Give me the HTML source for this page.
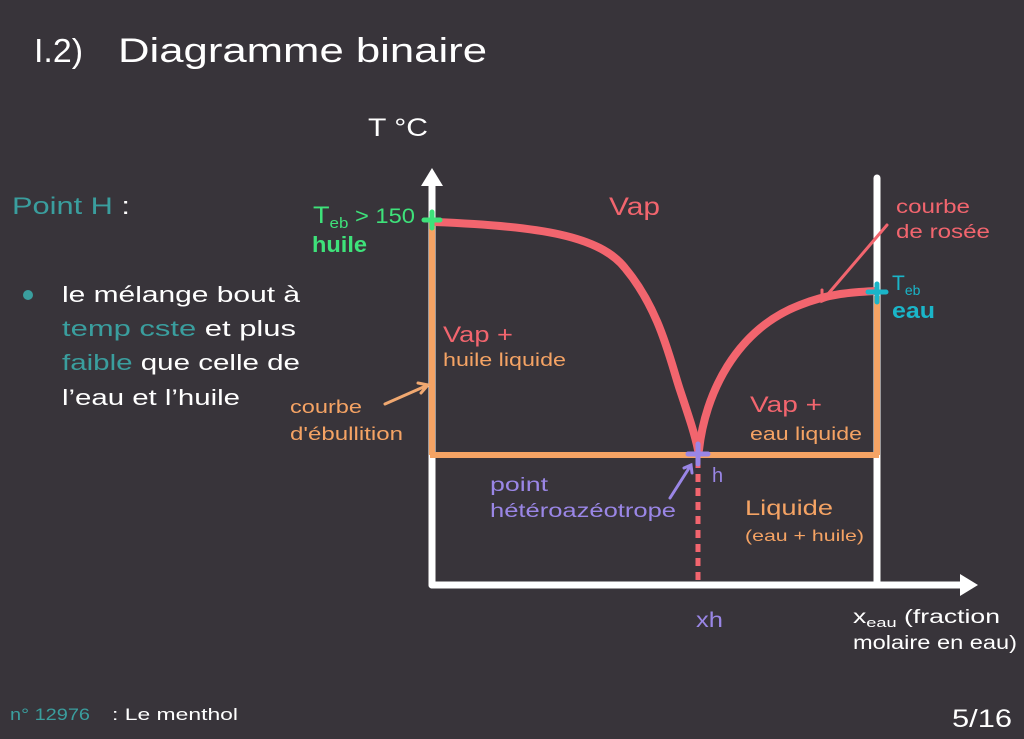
<!DOCTYPE html>
<html><head><meta charset="utf-8"><style>
html,body{margin:0;padding:0;background:#38343a;}
svg{display:block;font-family:"Liberation Sans",sans-serif;}
</style></head><body>
<svg width="1024" height="739" viewBox="0 0 1024 739" xmlns="http://www.w3.org/2000/svg">
<rect width="1024" height="739" fill="#38343a"/>
<text x="34" y="62" fill="#ffffff" font-size="33" textLength="49" lengthAdjust="spacingAndGlyphs">I.2)</text>
<text x="118" y="62" fill="#ffffff" font-size="34" textLength="369" lengthAdjust="spacingAndGlyphs">Diagramme binaire</text>
<text x="368" y="136" fill="#ffffff" font-size="25" textLength="60" lengthAdjust="spacingAndGlyphs">T °C</text>
<text x="12" y="214" fill="#3a9e9e" font-size="24" textLength="118" lengthAdjust="spacingAndGlyphs">Point H <tspan fill="#fff">:</tspan></text>
<circle cx="28" cy="295" r="5" fill="#3a9e9e"/>
<g font-size="22" fill="#ffffff">
<text x="62" y="302" textLength="238" lengthAdjust="spacingAndGlyphs">le mélange bout à</text>
<text x="62" y="336" textLength="234" lengthAdjust="spacingAndGlyphs"><tspan fill="#3a9e9e">temp cste</tspan> et  plus</text>
<text x="62" y="370" textLength="238" lengthAdjust="spacingAndGlyphs"><tspan fill="#3a9e9e">faible</tspan> que celle de</text>
<text x="62" y="405" textLength="178" lengthAdjust="spacingAndGlyphs">l’eau et l’huile</text>
</g>
<g stroke="#ffffff" stroke-width="7" fill="none" stroke-linecap="round">
<line x1="432" y1="585" x2="432" y2="180"/>
<line x1="432" y1="585" x2="965" y2="585"/>
<line x1="877" y1="585" x2="877" y2="178"/>
</g>
<polygon points="432,168 421,186 443,186" fill="#fff"/>
<polygon points="978,585 960,574 960,596" fill="#fff"/>
<g stroke="#f5a364" stroke-width="6" fill="none">
<line x1="432" y1="222" x2="432" y2="455"/>
<line x1="430" y1="455" x2="879" y2="455"/>
<line x1="877" y1="296" x2="877" y2="455"/>
</g>
<g stroke="#f2656e" stroke-width="8" fill="none" stroke-linecap="round">
<path d="M434,222 C540,226 600,236 625,268 C660,310 670,360 680,390 C690,420 695,435 698,450"/>
<path d="M699,450 C705,395 735,330 800,305 C830,293 855,292 875,291"/>
</g>
<line x1="698" y1="460" x2="698" y2="585" stroke="#f2656e" stroke-width="5" stroke-dasharray="8,6"/>
<g stroke-width="5" stroke-linecap="round">
<path d="M432,212 V228 M424,220 H440" stroke="#3ee27a"/>
<path d="M877,284 V302 M868,292 H886" stroke="#1ab5c8"/>
<path d="M698,444 V464 M688,454 H708" stroke="#9a86e6"/>
</g>
<g stroke-width="3" fill="none" stroke-linecap="round">
<path d="M385,404 L428,385 M418,383 L428,385 L421,393" stroke="#f0a870"/>
<path d="M887,225 L822,301 M822,290 L822,301 L832,297" stroke="#f2656e"/>
<path d="M670,498 L691,465 M684,468 L691,465 L692,473" stroke="#9a86e6"/>
</g>
<text x="313" y="223" fill="#3ee27a" font-size="24" textLength="102" lengthAdjust="spacingAndGlyphs">T<tspan font-size="15" dy="5">eb</tspan><tspan dy="-5" font-size="21"> &gt; 150</tspan></text>
<text x="312" y="252" fill="#3ee27a" font-size="22" font-weight="bold" textLength="55" lengthAdjust="spacingAndGlyphs">huile</text>
<text x="609" y="215" fill="#f2656e" font-size="25" textLength="51" lengthAdjust="spacingAndGlyphs">Vap</text>
<text x="896" y="213" fill="#f2656e" font-size="19" textLength="74" lengthAdjust="spacingAndGlyphs">courbe</text>
<text x="896" y="238" fill="#f2656e" font-size="19" textLength="94" lengthAdjust="spacingAndGlyphs">de rosée</text>
<text x="892" y="290" fill="#1ab5c8" font-size="21">T<tspan font-size="14" dy="5">eb</tspan></text>
<text x="892" y="318" fill="#1ab5c8" font-size="22" font-weight="bold" textLength="43" lengthAdjust="spacingAndGlyphs">eau</text>
<text x="443" y="342" fill="#f2656e" font-size="22" textLength="70" lengthAdjust="spacingAndGlyphs">Vap +</text>
<text x="443" y="366" fill="#f5a364" font-size="18" textLength="123" lengthAdjust="spacingAndGlyphs">huile liquide</text>
<text x="290" y="413" fill="#f5a364" font-size="18" textLength="72" lengthAdjust="spacingAndGlyphs">courbe</text>
<text x="290" y="440" fill="#f5a364" font-size="18" textLength="113" lengthAdjust="spacingAndGlyphs">d'ébullition</text>
<text x="750" y="412" fill="#f2656e" font-size="22" textLength="72" lengthAdjust="spacingAndGlyphs">Vap +</text>
<text x="750" y="440" fill="#f5a364" font-size="18" textLength="112" lengthAdjust="spacingAndGlyphs">eau liquide</text>
<text x="490" y="491" fill="#9a86e6" font-size="19" textLength="58" lengthAdjust="spacingAndGlyphs">point</text>
<text x="490" y="517" fill="#9a86e6" font-size="19" textLength="186" lengthAdjust="spacingAndGlyphs">hétéroazéotrope</text>
<text x="712" y="482" fill="#9a86e6" font-size="20">h</text>
<text x="745" y="515" fill="#f5a364" font-size="21" textLength="88" lengthAdjust="spacingAndGlyphs">Liquide</text>
<text x="745" y="541" fill="#f5a364" font-size="16" textLength="119" lengthAdjust="spacingAndGlyphs">(eau + huile)</text>
<text x="696" y="627" fill="#9a86e6" font-size="21" textLength="27" lengthAdjust="spacingAndGlyphs">xh</text>
<text x="853" y="623" fill="#ffffff" font-size="19" textLength="147" lengthAdjust="spacingAndGlyphs">x<tspan font-size="13" dy="4">eau</tspan><tspan dy="-4"> (fraction</tspan></text>
<text x="853" y="649" fill="#ffffff" font-size="19" textLength="164" lengthAdjust="spacingAndGlyphs">molaire en eau)</text>
<text x="10" y="720" fill="#3a9e9e" font-size="17" textLength="80" lengthAdjust="spacingAndGlyphs">n° 12976</text>
<text x="112" y="720" fill="#ffffff" font-size="17" textLength="126" lengthAdjust="spacingAndGlyphs">: Le menthol</text>
<text x="952" y="727" fill="#ffffff" font-size="25" textLength="60" lengthAdjust="spacingAndGlyphs">5/16</text>
</svg>
</body></html>
